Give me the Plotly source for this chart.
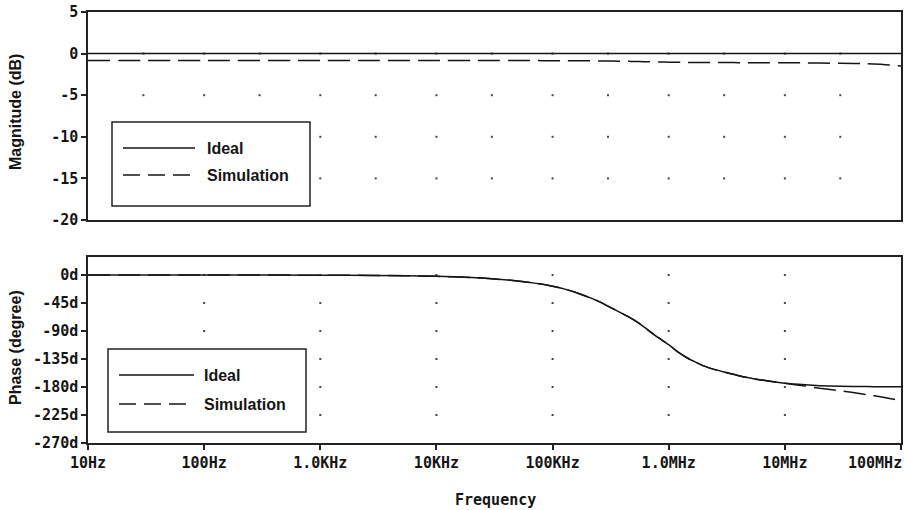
import plotly.graph_objects as go

# ---------------- data ----------------
freq_hz = [10, 100, 1e3, 3e3, 10e3, 20e3, 30e3, 50e3, 70e3, 100e3, 130e3, 170e3, 220e3,
           260e3, 330e3, 400e3, 480e3, 560e3, 650e3, 750e3, 850e3, 1e6, 1.15e6, 1.3e6,
           1.5e6, 1.7e6, 2e6, 2.5e6, 3e6, 3.6e6, 4.5e6, 5.5e6, 7e6, 10e6, 15e6, 20e6,
           30e6, 50e6, 70e6, 100e6]

mag_ideal_db = [0.0] * len(freq_hz)
mag_sim_db = [-0.82, -0.82, -0.82, -0.82, -0.82, -0.82, -0.82, -0.83, -0.84, -0.85, -0.85, -0.86, -0.87,
              -0.88, -0.90, -0.92, -0.94, -0.96, -0.98, -1.0, -1.01, -1.03, -1.04, -1.05,
              -1.06, -1.06, -1.07, -1.07, -1.08, -1.08, -1.09, -1.09, -1.10, -1.10, -1.12, -1.14,
              -1.16, -1.22, -1.3, -1.5]

phase_ideal_deg = [0, 0, -0.2, -0.6, -2, -4, -6, -9.5, -13, -18, -23, -30, -38,
                   -44, -54, -62, -70, -78, -87, -96, -103, -112, -121, -128,
                   -135, -140, -146, -152, -156, -159.5, -164, -167, -170, -174, -176.5, -177.8,
                   -178.8, -179.3, -179.5, -179.6]
phase_sim_deg = [0, 0, -0.2, -0.6, -2, -4, -6, -9.5, -13, -18, -23, -30, -38,
                 -44, -54, -62, -70, -78, -87, -96, -103, -112, -121, -128,
                 -135, -140, -146, -152, -156, -159.5, -164, -167, -170, -174, -178.5, -182,
                 -186, -192, -196.5, -202]

# axis ticks
x_tick_vals = [10, 100, 1e3, 10e3, 100e3, 1e6, 10e6, 100e6]
x_tick_text = ["10Hz", "100Hz", "1.0KHz", "10KHz", "100KHz", "1.0MHz", "10MHz", "100MHz"]
mag_tick_vals = [5, 0, -5, -10, -15, -20]
mag_tick_text = ["5", "0", "-5", "-10", "-15", "-20"]
phase_tick_vals = [0, -45, -90, -135, -180, -225, -270]
phase_tick_text = ["0d", "-45d", "-90d", "-135d", "-180d", "-225d", "-270d"]

# dotted grid positions
mag_grid_x = [30, 100, 300, 1e3, 3e3, 10e3, 30e3, 100e3, 300e3, 1e6, 3e6, 10e6, 30e6]
mag_grid_y = [0, -5, -10, -15]
phase_grid_x = [100, 1e3, 10e3, 100e3, 1e6, 10e6]
phase_grid_y = [0, -45, -90, -135, -180, -225]

series_names = ["Ideal", "Simulation"]

# ---------------- layout helpers (pixel -> paper) ----------------
W, H = 908, 510
L, R, T, B = 88, 7, 12, 67
PW, PH = W - L - R, H - T - B


def px(xp):
    return (xp - L) / PW


def py(yp):
    return (H - B - yp) / PH


INK = "#151515"
TICK_FONT = dict(family="DejaVu Sans Mono", size=15, color=INK, weight="bold")
TEXT_FONT = dict(family="Liberation Sans", size=16, color=INK, weight="bold")
TITLE_FONT = dict(family="Liberation Sans", size=16, color=INK, weight="bold")
SIM_DASH = "22px,8px"

fig = go.Figure()

# grid dots
fig.add_trace(go.Scatter(
    x=[gx for gy in mag_grid_y for gx in mag_grid_x],
    y=[gy for gy in mag_grid_y for gx in mag_grid_x],
    mode="markers", marker=dict(size=2, color="#444", symbol="square"),
    xaxis="x", yaxis="y", hoverinfo="skip", showlegend=False))
fig.add_trace(go.Scatter(
    x=[gx for gy in phase_grid_y for gx in phase_grid_x],
    y=[gy for gy in phase_grid_y for gx in phase_grid_x],
    mode="markers", marker=dict(size=2, color="#444", symbol="square"),
    xaxis="x2", yaxis="y2", hoverinfo="skip", showlegend=False))

# magnitude
fig.add_trace(go.Scatter(x=freq_hz, y=mag_ideal_db, name=series_names[0], mode="lines",
                         line=dict(color=INK, width=1.5), xaxis="x", yaxis="y", showlegend=False))
fig.add_trace(go.Scatter(x=freq_hz, y=mag_sim_db, name=series_names[1], mode="lines",
                         line=dict(color=INK, width=1.5, dash=SIM_DASH, shape="spline", smoothing=0.5),
                         xaxis="x", yaxis="y", showlegend=False))
# phase
fig.add_trace(go.Scatter(x=freq_hz, y=phase_ideal_deg, name=series_names[0], mode="lines",
                         line=dict(color=INK, width=1.5, shape="spline", smoothing=0.5),
                         xaxis="x2", yaxis="y2", showlegend=False))
fig.add_trace(go.Scatter(x=freq_hz, y=phase_sim_deg, name=series_names[1], mode="lines",
                         line=dict(color=INK, width=1.5, dash=SIM_DASH, shape="spline", smoothing=0.5),
                         xaxis="x2", yaxis="y2", showlegend=False))

top_dom = [py(220), 1.0]
bot_dom = [0.0, py(257)]

axis_common = dict(showline=True, linecolor="#222", linewidth=1.5, mirror=True,
                   showgrid=False, zeroline=False)

fig.update_layout(
    width=W, height=H, autosize=False,
    margin=dict(l=L, r=R, t=T, b=B, pad=0),
    paper_bgcolor="white", plot_bgcolor="white",
    template="none",
    showlegend=False,
    xaxis=dict(type="log", range=[1, 8], anchor="y", domain=[0, 1],
               showticklabels=False, ticks="", automargin=False, **axis_common),
    yaxis=dict(range=[-20, 5], domain=top_dom, anchor="x",
               tickmode="array", tickvals=mag_tick_vals, ticktext=mag_tick_text,
               ticks="outside", ticklen=5, tickwidth=1.5, tickcolor="#222",
               tickfont=TICK_FONT, automargin=False, **axis_common),
    xaxis2=dict(type="log", range=[1, 8], anchor="y2", domain=[0, 1],
                tickmode="array", tickvals=x_tick_vals,
                ticktext=x_tick_text[:-1] + [""],
                ticks="outside", ticklen=5, tickwidth=1.5, tickcolor="#222",
                tickfont=TICK_FONT, automargin=False, **axis_common),
    yaxis2=dict(range=[-270, 29], domain=bot_dom, anchor="x2",
                tickmode="array", tickvals=phase_tick_vals, ticktext=phase_tick_text,
                ticks="outside", ticklen=5, tickwidth=1.5, tickcolor="#222",
                tickfont=TICK_FONT, automargin=False, **axis_common),
)

# ---------------- legends (drawn as boxes) ----------------
shapes = []
annotations = []


def add_legend(box, y_ideal, y_sim, line_x0, line_x1, text_x):
    x0, y0, x1, y1 = box
    shapes.append(dict(type="rect", xref="paper", yref="paper",
                       x0=px(x0), x1=px(x1), y0=py(y1), y1=py(y0),
                       line=dict(color="#222", width=1.5), fillcolor="white", layer="above"))
    shapes.append(dict(type="line", xref="paper", yref="paper",
                       x0=px(line_x0), x1=px(line_x1), y0=py(y_ideal), y1=py(y_ideal),
                       line=dict(color=INK, width=1.5), layer="above"))
    shapes.append(dict(type="line", xref="paper", yref="paper",
                       x0=px(line_x0), x1=px(line_x1), y0=py(y_sim), y1=py(y_sim),
                       line=dict(color=INK, width=1.5, dash="17px,8px"), layer="above"))
    for name, yy in zip(series_names, [y_ideal, y_sim]):
        annotations.append(dict(text=name, xref="paper", yref="paper",
                                x=px(text_x), y=py(yy), xanchor="left", yanchor="middle",
                                showarrow=False, font=TEXT_FONT))


add_legend((112, 122, 310, 206), 148, 175, 123, 195, 205)
add_legend((108, 349, 306, 432), 375, 404, 119, 194, 202)

# last x tick label, kept inside the page
annotations.append(dict(text=x_tick_text[-1], xref="paper", yref="paper",
                        x=px(904), y=py(463), xanchor="right", yanchor="middle",
                        showarrow=False, font=TICK_FONT))

# axis titles
annotations.append(dict(text="Magnitude (dB)", xref="paper", yref="paper",
                        x=px(15), y=py(112), xanchor="center", yanchor="middle",
                        textangle=-90, showarrow=False, font=TITLE_FONT))
annotations.append(dict(text="Phase (degree)", xref="paper", yref="paper",
                        x=px(15), y=py(348), xanchor="center", yanchor="middle",
                        textangle=-90, showarrow=False, font=TITLE_FONT))
annotations.append(dict(text="Frequency", xref="paper", yref="paper",
                        x=px(495), y=py(500), xanchor="center", yanchor="middle",
                        showarrow=False, font=TICK_FONT))

fig.update_layout(shapes=shapes, annotations=annotations)

fig.write_html("out.html")
